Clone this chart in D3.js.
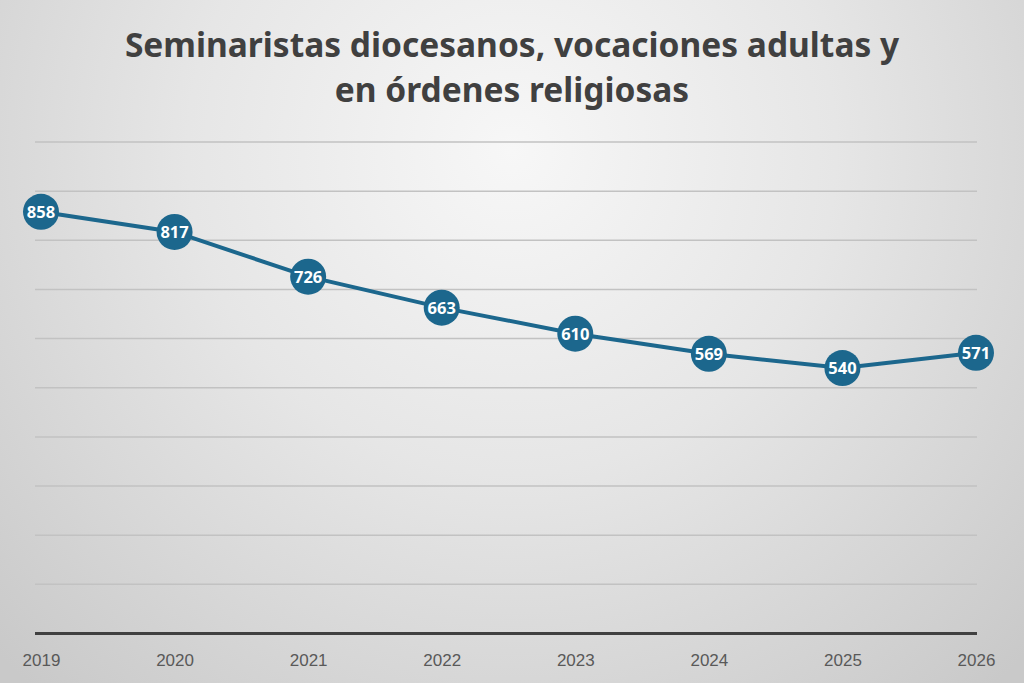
<!DOCTYPE html>
<html>
<head>
<meta charset="utf-8">
<script src="https://cdn.jsdelivr.net/npm/d3@7"></script>
<style>
  html, body { margin: 0; padding: 0; }
  body { width: 1024px; height: 683px; overflow: hidden; }
</style>
</head>
<body>
<div class="chart-box"></div>
<script>
var years = ['2019', '2020', '2021', '2022', '2023', '2024', '2025', '2026'];
var seminaristas = [858, 817, 726, 663, 610, 569, 540, 571];
var grid_ticks = [0, 100, 200, 300, 400, 500, 600, 700, 800, 900, 1000];
var title_lines = ['Seminaristas diocesanos, vocaciones adultas y', 'en órdenes religiosas'];

var width = 1024,
    height = 683,
    margin = {top: 142, right: 47, bottom: 49, left: 35};

var LINE_COLOR = '#1c678d';
var POINT_RADIUS = 18;

var svg = d3.select('.chart-box').append('svg')
    .attr('width', width)
    .attr('height', height);

//background, light centre near the title going gray at the edges
var defs = svg.append('defs');
var bgGrad = defs.append('radialGradient')
    .attr('id', 'bg-gradient')
    .attr('gradientUnits', 'userSpaceOnUse')
    .attr('cx', 512).attr('cy', 150)
    .attr('r', 720);
bgGrad.append('stop').attr('offset', 0).attr('stop-color', '#f7f7f7');
bgGrad.append('stop').attr('offset', 0.45).attr('stop-color', '#e6e6e6');
bgGrad.append('stop').attr('offset', 1).attr('stop-color', '#c9c9c9');

svg.append('rect')
    .attr('width', width)
    .attr('height', height)
    .style('fill', 'url(#bg-gradient)');

var x = d3.scalePoint()
    .domain(years)
    .range([41, 976]);

var y = d3.scaleLinear()
    .domain([0, 1000])
    .range([height - margin.bottom - 0.5, margin.top]);

// gridlines
svg.append('g')
  .selectAll('line')
  .data(grid_ticks.filter(function(d) { return d > 0; }))
  .enter().append('line')
    .attr('x1', margin.left)
    .attr('x2', width - margin.right)
    .attr('y1', function(d) { return y(d); })
    .attr('y2', function(d) { return y(d); })
    .attr('stroke', '#c2c2c2')
    .attr('stroke-width', 1.5);

// baseline
svg.append('line')
    .attr('x1', margin.left)
    .attr('x2', width - margin.right)
    .attr('y1', y(0))
    .attr('y2', y(0))
    .attr('stroke', '#404040')
    .attr('stroke-width', 3);

// x axis labels
var xAxis = d3.axisBottom(x).tickSize(0).tickPadding(0);
var xg = svg.append('g')
    .attr('transform', 'translate(0,' + (y(0) + 20) + ')')
    .call(xAxis);
xg.select('.domain').remove();
xg.selectAll('text')
    .attr('fill', '#595959')
    .style('font-family', '"Liberation Sans", Arial, sans-serif')
    .style('font-size', '17px');

// title
svg.append('g')
  .selectAll('text')
  .data(title_lines)
  .enter().append('text')
    .attr('x', width / 2)
    .attr('y', function(d, i) { return 57 + i * 45; })
    .attr('text-anchor', 'middle')
    .attr('fill', '#404040')
    .style('font-family', '"Noto Sans", "Open Sans", sans-serif')
    .style('font-weight', 'bold')
    .style('font-size', '33.5px')
    .text(function(d) { return d; });

var line = d3.line()
    .x(function(d, i) { return x(years[i]); })
    .y(function(d) { return y(d); });

svg.append('path')
    .datum(seminaristas)
    .attr('d', line)
    .attr('fill', 'none')
    .attr('stroke', LINE_COLOR)
    .attr('stroke-width', 4);

var pts = svg.append('g')
  .selectAll('g')
  .data(seminaristas)
  .enter().append('g')
    .attr('transform', function(d, i) { return 'translate(' + x(years[i]) + ',' + y(d) + ')'; });

pts.append('circle')
    .attr('r', POINT_RADIUS)
    .attr('fill', LINE_COLOR);

pts.append('text')
    .attr('text-anchor', 'middle')
    .attr('dy', '0.36em')
    .attr('fill', '#ffffff')
    .style('font-family', '"Open Sans", "Noto Sans", sans-serif')
    .style('font-weight', 'bold')
    .style('font-size', '16.5px')
    .text(function(d) { return d; });
</script>
</body>
</html>
